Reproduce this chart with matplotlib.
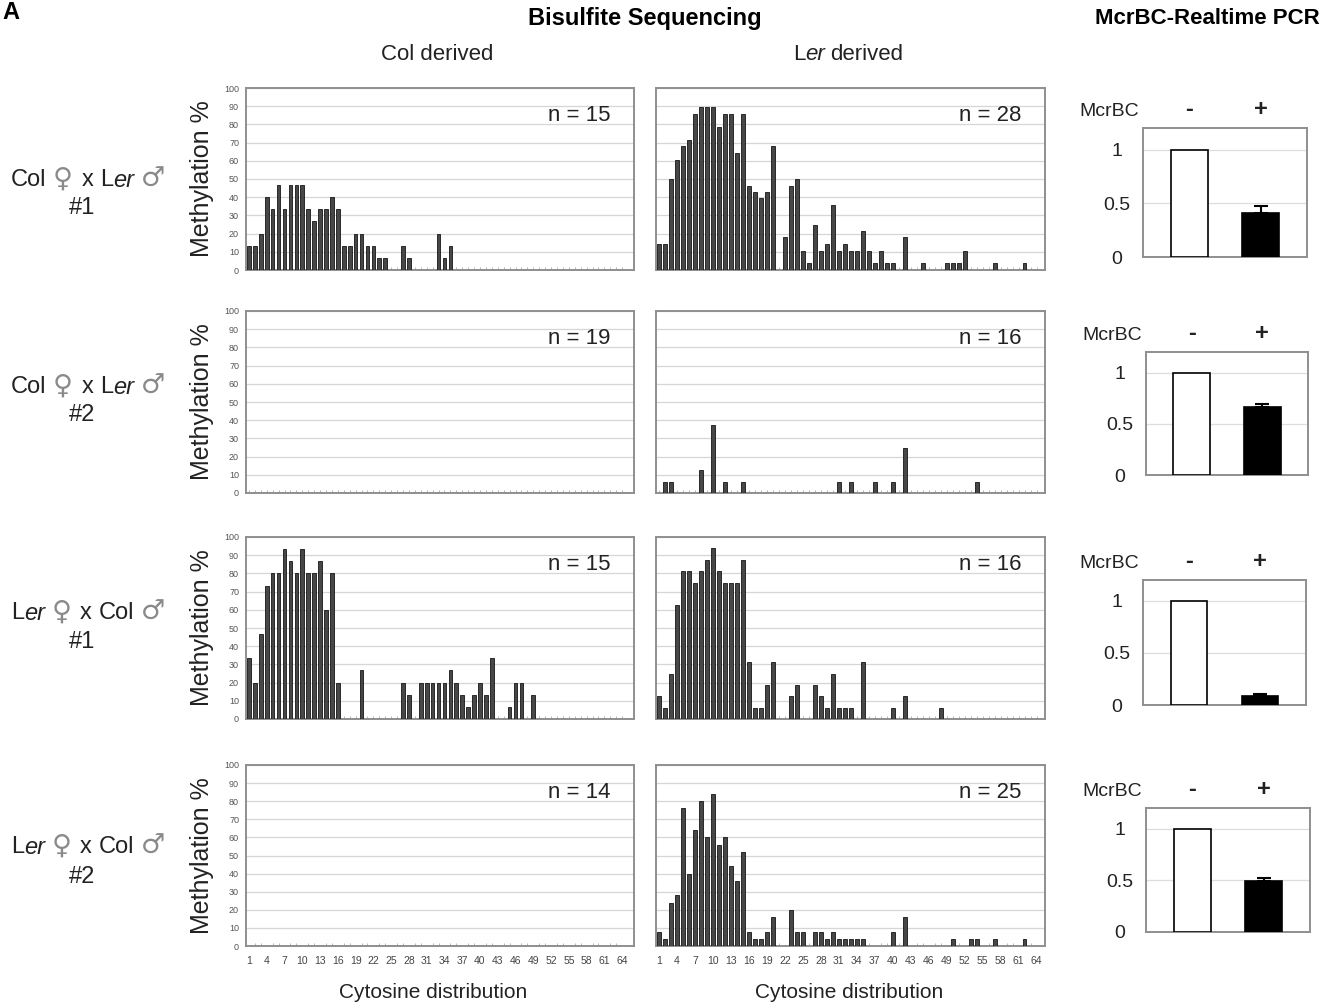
import numpy as np
import matplotlib.pyplot as plt

plt.rcParams['font.family'] = ['Liberation Sans', 'DejaVu Sans']

W, H = 1343, 1006

# methylation % per cytosine position (1..64)
cytosine = np.arange(1, 65)
tick_pos = np.arange(1, 65, 3)

col_1 = [13.3, 13.3, 20, 40, 33.3, 46.7, 33.3, 46.7, 46.7, 46.7, 33.3, 26.7, 33.3, 33.3, 40, 33.3,
         13.3, 13.3, 20, 20, 13.3, 13.3, 6.7, 6.7, 0, 0, 13.3, 6.7, 0, 0, 0, 0,
         20, 6.7, 13.3, 0, 0, 0, 0, 0, 0, 0, 0, 0, 0, 0, 0, 0,
         0, 0, 0, 0, 0, 0, 0, 0, 0, 0, 0, 0, 0, 0, 0, 0]
ler_1 = [14.3, 14.3, 50, 60.7, 67.9, 71.4, 85.7, 89.3, 89.3, 89.3, 78.6, 85.7, 85.7, 64.3, 85.7, 46.4,
         42.9, 39.3, 42.9, 67.9, 0, 17.9, 46.4, 50, 10.7, 3.6, 25, 10.7, 14.3, 35.7, 10.7, 14.3,
         10.7, 10.7, 21.4, 10.7, 3.6, 10.7, 3.6, 3.6, 0, 17.9, 0, 0, 3.6, 0, 0, 0,
         3.6, 3.6, 3.6, 10.7, 0, 0, 0, 0, 3.6, 0, 0, 0, 0, 3.6, 0, 0]
col_2 = [0] * 64
ler_2 = [0, 6.25, 6.25, 0, 0, 0, 0, 12.5, 0, 37.5, 0, 6.25, 0, 0, 6.25, 0,
         0, 0, 0, 0, 0, 0, 0, 0, 0, 0, 0, 0, 0, 0, 6.25, 0,
         6.25, 0, 0, 0, 6.25, 0, 0, 6.25, 0, 25, 0, 0, 0, 0, 0, 0,
         0, 0, 0, 0, 0, 6.25, 0, 0, 0, 0, 0, 0, 0, 0, 0, 0]
col_3 = [33.3, 20, 46.7, 73.3, 80, 80, 93.3, 86.7, 80, 93.3, 80, 80, 86.7, 60, 80, 20,
         0, 0, 0, 26.7, 0, 0, 0, 0, 0, 0, 20, 13.3, 0, 20, 20, 20,
         20, 20, 26.7, 20, 13.3, 6.7, 13.3, 20, 13.3, 33.3, 0, 0, 6.7, 20, 20, 0,
         13.3, 0, 0, 0, 0, 0, 0, 0, 0, 0, 0, 0, 0, 0, 0, 0]
ler_3 = [12.5, 6.25, 25, 62.5, 81.25, 81.25, 75, 81.25, 87.5, 93.75, 81.25, 75, 75, 75, 87.5, 31.25,
         6.25, 6.25, 18.75, 31.25, 0, 0, 12.5, 18.75, 0, 0, 18.75, 12.5, 6.25, 25, 6.25, 6.25,
         6.25, 0, 31.25, 0, 0, 0, 0, 6.25, 0, 12.5, 0, 0, 0, 0, 0, 6.25,
         0, 0, 0, 0, 0, 0, 0, 0, 0, 0, 0, 0, 0, 0, 0, 0]
col_4 = [0] * 64
ler_4 = [8, 4, 24, 28, 76, 40, 64, 80, 60, 84, 56, 60, 44, 36, 52, 8,
         4, 4, 8, 16, 0, 0, 20, 8, 8, 0, 8, 8, 4, 8, 4, 4,
         4, 4, 4, 0, 0, 0, 0, 8, 0, 16, 0, 0, 0, 0, 0, 0,
         0, 4, 0, 0, 4, 4, 0, 0, 4, 0, 0, 0, 0, 4, 0, 0]

col_n = [15, 19, 15, 14]
ler_n = [28, 16, 16, 25]

# McrBC realtime PCR (relative amount)
mcrbc_minus = [1, 1, 1, 1]
mcrbc_plus = [0.41, 0.66, 0.09, 0.49]
mcrbc_err = [0.065, 0.03, 0.02, 0.035]

crosses = [('Col', 'Ler', '#1'), ('Col', 'Ler', '#2'), ('Ler', 'Col', '#1'), ('Ler', 'Col', '#2')]

col_data = [col_1, col_2, col_3, col_4]
ler_data = [ler_1, ler_2, ler_3, ler_4]

fig = plt.figure(figsize=(W / 100, H / 100), dpi=100)
renderer = fig.canvas.get_renderer()


def box(l, t, r, b):
    return fig.add_axes([l / W, 1 - b / H, (r - l) / W, (b - t) / H])


def rich_text(xc, y, parts, size):
    # parts: (text, style, color, gap after in px, size scale); centred on xc
    objs = []
    for s, style, color, gap, scale in parts:
        fam = ['DejaVu Sans'] if scale != 1 else None
        t = fig.text(0, 1 - y / H, s, fontsize=size * scale, style=style, color=color,
                     ha='left', va='center', family=fam)
        objs.append((t, gap))
    widths = [t.get_window_extent(renderer).width for t, g in objs]
    total = sum(widths) + sum(g for t, g in objs)
    x = xc - total / 2
    for (t, g), w in zip(objs, widths):
        t.set_x(x / W)
        x += w + g


def name(strain):
    if strain == 'Ler':
        return [('L', 'normal', '#222222', 0, 1), ('er', 'italic', '#222222', 6, 1)]
    return [(strain, 'normal', '#222222', 6, 1)]


def bar_panel(ax, vals, n, bottom, xmax, ylabels):
    ax.bar(cytosine, vals, width=0.62, color='#474747', edgecolor='#151515', linewidth=0.6, zorder=3)
    ax.set_xlim(0.5, xmax)
    ax.set_ylim(0, 100)
    ax.set_yticks(range(0, 101, 10))
    ax.grid(axis='y', color='#d6d6d6', linewidth=0.9, zorder=0)
    for s in ax.spines.values():
        s.set_color('#8f8f8f')
        s.set_linewidth(1.4)
    ax.tick_params(axis='y', length=0, labelsize=6.5, labelcolor='#555555', pad=5,
                   labelleft=ylabels)
    ax.set_xticks(cytosine, minor=True)
    ax.tick_params(axis='x', which='minor', direction='in', length=2.5, color='#aaaaaa')
    if bottom:
        ax.set_xticks(tick_pos)
        ax.tick_params(axis='x', which='major', length=0, labelsize=7.5, labelcolor='#444444', pad=7)
    else:
        ax.set_xticks([])
    ax.text(0.86, 0.85, f'n = {n}', transform=ax.transAxes, fontsize=16,
            color='#222222', ha='center', va='center')


bar_rows = [(88, 270), (311, 493), (537, 719), (765, 946)]
mcr_boxes = [(1143, 128, 1307, 257), (1146, 352, 1308, 475), (1143, 580, 1306, 705), (1146, 808, 1310, 932)]
label_y = [(180, 208), (387, 415), (613, 642), (847, 877)]

for i in range(4):
    top, bot = bar_rows[i]
    last = i == 3

    ax = box(246, top, 634, bot)
    bar_panel(ax, col_data[i], col_n[i], last, 66.0, True)
    ax2 = box(656, top, 1045, bot)
    bar_panel(ax2, ler_data[i], ler_n[i], last, 65.4, False)

    fig.text(202 / W, 1 - (top + bot) / 2 / H, 'Methylation %', rotation=90,
             fontsize=18, color='#222222', ha='center', va='center')

    mother, father, rep = crosses[i]
    ly, ry = label_y[i]
    parts = name(mother) + [('\u2640', 'normal', '#8a8a8a', 9, 1.15), ('x', 'normal', '#222222', 7, 1)] \
        + name(father) + [('\u2642', 'normal', '#8a8a8a', 0, 1.15)]
    rich_text(88, ly, parts, 17)
    fig.text(82 / W, 1 - ry / H, rep, fontsize=17, color='#222222', ha='center', va='center')

    # McrBC realtime PCR
    l, t, r, b = mcr_boxes[i]
    mx = box(l, t, r, b)
    mx.bar([0], [mcrbc_minus[i]], width=0.52, color='white', edgecolor='black', linewidth=1.2, zorder=3)
    mx.bar([1], [mcrbc_plus[i]], width=0.52, color='black', edgecolor='black', linewidth=1.2, zorder=3)
    mx.errorbar([1], [mcrbc_plus[i]], yerr=[[0], [mcrbc_err[i]]], fmt='none', ecolor='black',
                elinewidth=1.5, capsize=5, capthick=1.5, zorder=4)
    mx.set_xlim(-0.65, 1.65)
    mx.set_ylim(0, 1.2)
    mx.set_xticks([])
    mx.set_yticks([0, 0.5, 1])
    mx.set_yticklabels(['0', '0.5', '1'])
    mx.tick_params(axis='y', length=0, labelsize=14, labelcolor='#222222', pad=19)
    for lab in mx.get_yticklabels():
        lab.set_horizontalalignment('center')
    mx.grid(axis='y', color='#dddddd', linewidth=0.9, zorder=0)
    for s in mx.spines.values():
        s.set_color('#8f8f8f')
        s.set_linewidth(1.4)
    mx.annotate('McrBC', xy=(0, 1), xycoords='axes fraction', xytext=(-3, 12),
                textcoords='offset points', fontsize=14, color='#222222', ha='right', va='center')
    for xpos, sign in [(0, '-'), (1, '+')]:
        mx.annotate(sign, xy=(xpos, 1), xycoords=('data', 'axes fraction'), xytext=(0, 13),
                    textcoords='offset points', fontsize=17, fontweight='bold',
                    color='#222222', ha='center', va='center')

# headers
fig.text(2 / W, 1 - 1 / H, 'A', fontsize=17, fontweight='bold', ha='left', va='top')
fig.text(645 / W, 1 - 18 / H, 'Bisulfite Sequencing', fontsize=17, fontweight='bold',
         ha='center', va='center')
fig.text(1207 / W, 1 - 18 / H, 'McrBC-Realtime PCR', fontsize=16, fontweight='bold',
         ha='center', va='center')
fig.text(437 / W, 1 - 55 / H, 'Col derived', fontsize=16, color='#222222', ha='center', va='center')
rich_text(848, 55, [('L', 'normal', '#222222', 0, 1), ('er', 'italic', '#222222', 5, 1),
                    ('derived', 'normal', '#222222', 0, 1)], 16)
fig.text(433 / W, 1 - 992 / H, 'Cytosine distribution', fontsize=15, color='#222222',
         ha='center', va='center')
fig.text(849 / W, 1 - 992 / H, 'Cytosine distribution', fontsize=15, color='#222222',
         ha='center', va='center')

fig.savefig('out.png', dpi=100)
